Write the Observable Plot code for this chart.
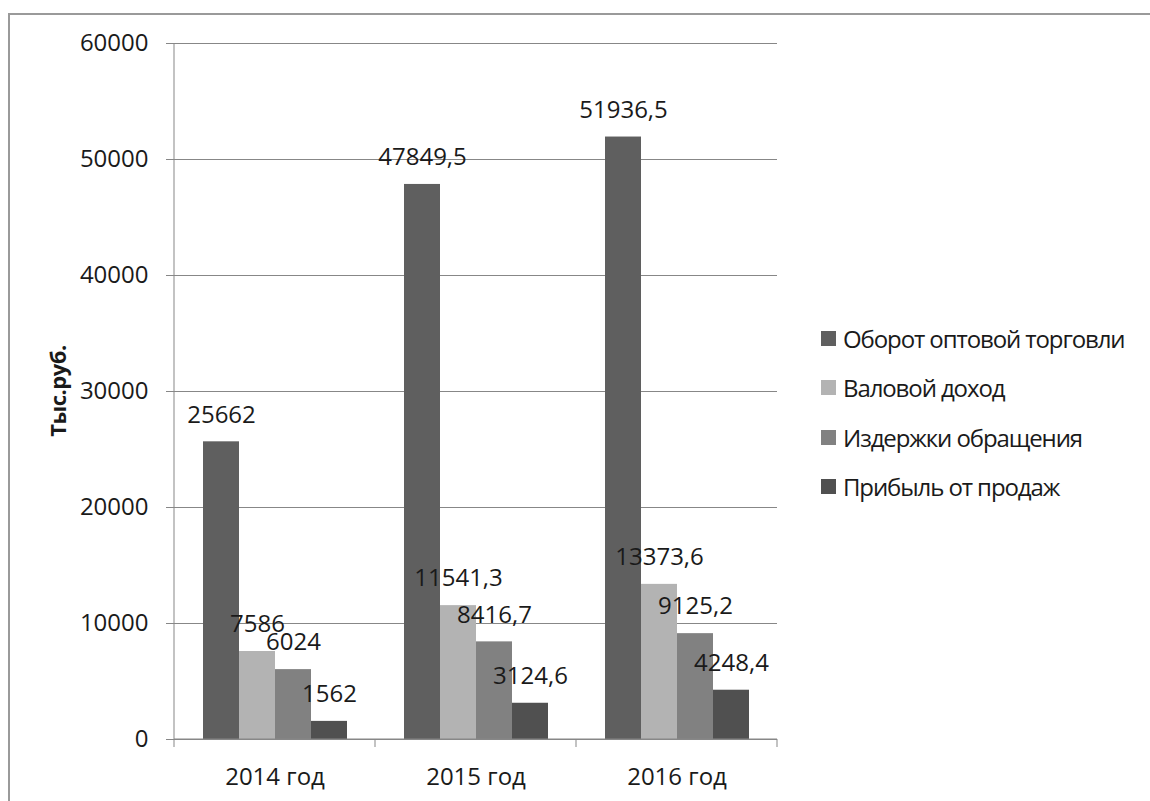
<!DOCTYPE html>
<html lang="ru">
<head>
<meta charset="utf-8">
<script src="https://cdn.jsdelivr.net/npm/d3@7"></script>
<script src="https://cdn.jsdelivr.net/npm/@observablehq/plot@0.6"></script>
<style>
  html, body { margin: 0; padding: 0; background: #fff; overflow: hidden; }
  #wrap { position: relative; width: 1150px; height: 801px; font-family: "Open Sans", sans-serif; color: #1a1a1a; }
  #wrap svg { position: absolute; left: 0; top: 0; }
  #border { position: absolute; left: 8px; top: 13px; right: 0; bottom: 0; border-top: 2px solid #9a9a9a; border-left: 2px solid #9a9a9a; }
  #ytitle { position: absolute; left: 57px; top: 391px; transform: translate(-50%, -50%) rotate(-90deg); font-weight: bold; font-size: 22px; white-space: nowrap; letter-spacing: -0.5px; }
  #legend { position: absolute; left: 821px; top: 314px; }
  .item { display: flex; align-items: center; height: 49.3px; font-size: 24px; letter-spacing: -1.1px; white-space: nowrap; }
  .sw { width: 15px; height: 15px; margin-right: 7px; flex: none; }
</style>
</head>
<body>
<div id="wrap">
  <div id="border"></div>
  <div id="chart"></div>
  <div id="ytitle">Тыс.руб.</div>
  <div id="legend"></div>
</div>
<script>
// Years on the horizontal axis
const years = ["2014 год", "2015 год", "2016 год"];
// Indicators shown for each year
const series = ["Оборот оптовой торговли", "Валовой доход", "Издержки обращения", "Прибыль от продаж"];
// Values, thousand roubles
const turnover = [25662, 47849.5, 51936.5];
const grossIncome = [7586, 11541.3, 13373.6];
const distributionCosts = [6024, 8416.7, 9125.2];
const salesProfit = [1562, 3124.6, 4248.4];
const palette = ["#5f5f5f", "#b3b3b3", "#818181", "#505050"];
const yTicks = [0, 10000, 20000, 30000, 40000, 50000, 60000];

const valuesBySeries = [turnover, grossIncome, distributionCosts, salesProfit];
const rows = [];
years.forEach((year, i) => {
  series.forEach((s, j) => rows.push({year, series: s, value: valuesBySeries[j][i]}));
});

const ruNumber = v => String(v).replace(".", ",");
const lineColor = "#878787";

const chart = Plot.plot({
  width: 1150,
  height: 801,
  marginLeft: 173,
  marginRight: 372,
  marginTop: 43,
  marginBottom: 62,
  style: {fontFamily: "Open Sans, sans-serif", fontSize: "24px", color: "#1a1a1a", background: "transparent"},
  fx: {domain: years, padding: 0, label: null},
  x: {domain: series, paddingInner: 0, paddingOuter: 0.755, axis: null},
  y: {domain: [0, 60000], label: null},
  color: {domain: series, range: palette},
  marks: [
    Plot.gridY(yTicks, {stroke: lineColor, strokeOpacity: 1}),
    Plot.barY(rows, {fx: "year", x: "series", y: "value", fill: "series"}),
    Plot.text(rows, {fx: "year", x: "series", y: "value", text: d => ruNumber(d.value), dy: -27, fontSize: 24, fill: "#1a1a1a"}),
    Plot.axisY(yTicks, {tickSize: 8, tickPadding: 18, tickFormat: d => String(d), stroke: lineColor, fill: "#1a1a1a", label: null, fontSize: 24}),
    Plot.axisFx({anchor: "bottom", tickSize: 0, tickPadding: 28, label: null, fontSize: 24, fill: "#1a1a1a"})
  ]
});

// Axis line on the left and category boundary ticks under the baseline
const fx = chart.scale("fx");
const y = chart.scale("y");
const svg = d3.select(chart);
const y0 = y.apply(0);
const xStart = fx.apply(years[0]);
const bounds = years.map(d => fx.apply(d)).concat(fx.apply(years[years.length - 1]) + fx.bandwidth);
const g = svg.append("g").attr("stroke", lineColor).attr("stroke-width", 1);
g.append("line").attr("x1", xStart).attr("x2", xStart).attr("y1", y.apply(60000)).attr("y2", y0);
g.append("line").attr("x1", xStart).attr("x2", bounds[bounds.length - 1]).attr("y1", y0).attr("y2", y0);
bounds.forEach(b => g.append("line").attr("x1", b).attr("x2", b).attr("y1", y0).attr("y2", y0 + 8));

document.getElementById("chart").appendChild(chart);

// Legend
const legend = d3.select("#legend");
series.forEach((s, j) => {
  const item = legend.append("div").attr("class", "item");
  item.append("div").attr("class", "sw").style("background", palette[j]);
  item.append("span").text(s);
});
</script>
</body>
</html>
